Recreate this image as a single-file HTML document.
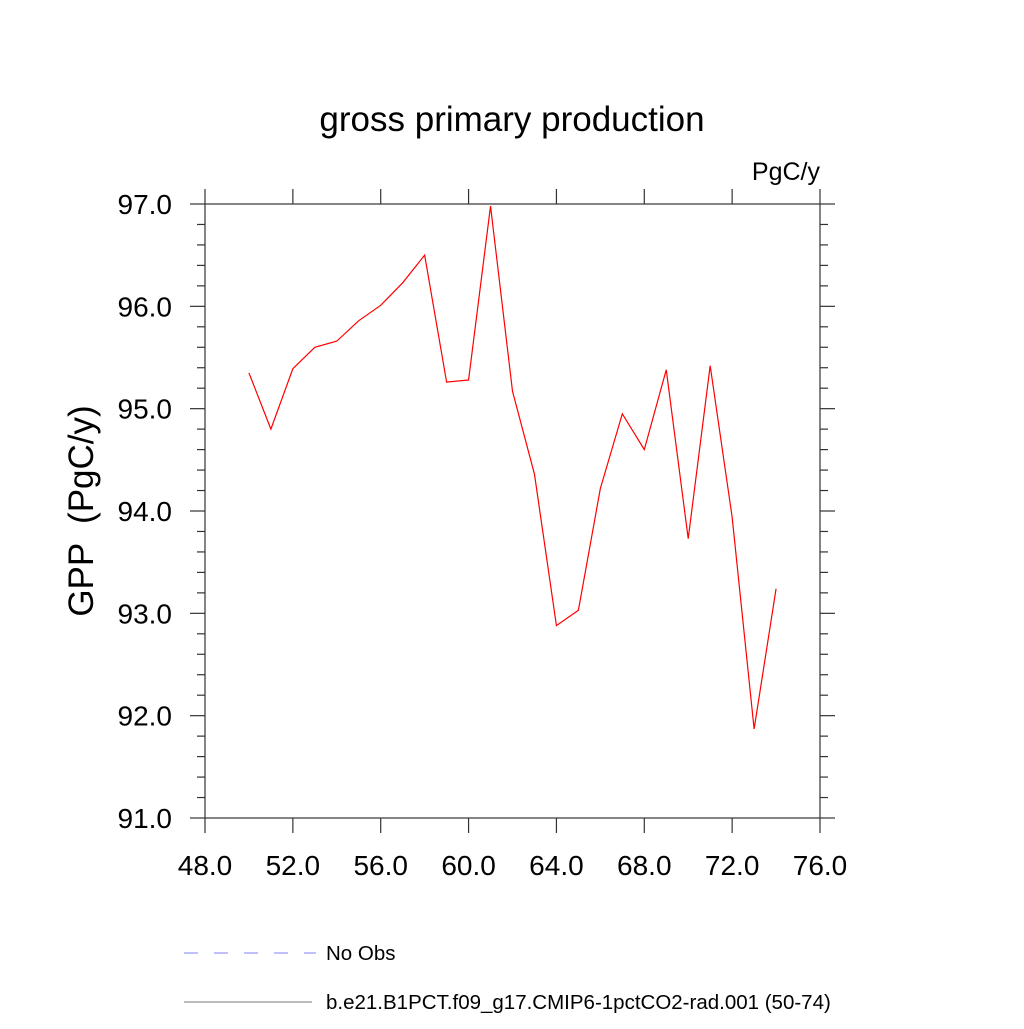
<!DOCTYPE html>
<html><head><meta charset="utf-8"><style>
body{margin:0;background:#fff}
svg text{font-family:"Liberation Sans",sans-serif;fill:#000}
</style></head><body>
<svg id="chart" width="1024" height="1024" viewBox="0 0 1024 1024" xmlns="http://www.w3.org/2000/svg">
<text x="512" y="131" font-size="35" text-anchor="middle">gross primary production</text>
<text x="820" y="180" font-size="25" text-anchor="end">PgC/y</text>
<text transform="translate(93,511) rotate(-90)" font-size="35" text-anchor="middle" style="white-space:pre">GPP  (PgC/y)</text>
<g id="axes"></g>
<polyline id="series" fill="none" stroke="#ff0000" stroke-width="1.2"/>
<g>
<line x1="184" y1="953" x2="316" y2="953" stroke="#8080ff" stroke-width="1" stroke-dasharray="14,16"/>
<text x="326" y="960" font-size="20.5">No Obs</text>
<line x1="184" y1="1002" x2="312" y2="1002" stroke="#777" stroke-width="1"/>
<text x="326" y="1009" font-size="20.5">b.e21.B1PCT.f09_g17.CMIP6-1pctCO2-rad.001 (50-74)</text>
</g>
</svg>
<script>
const years=[50,51,52,53,54,55,56,57,58,59,60,61,62,63,64,65,66,67,68,69,70,71,72,73,74];
const gpp=[95.35,94.80,95.39,95.60,95.66,95.86,96.01,96.23,96.50,95.26,95.28,96.98,95.17,94.36,92.88,93.03,94.22,94.95,94.60,95.38,93.73,95.42,93.94,91.87,93.24];
const xTicks=[48,52,56,60,64,68,72,76];
const yTicks=[91,92,93,94,95,96,97];
const L=205,R=820,T=204,B=818,xMin=48,xMax=76,yMin=91,yMax=97;
const sx=v=>L+(v-xMin)/(xMax-xMin)*(R-L);
const sy=v=>B-(v-yMin)/(yMax-yMin)*(B-T);
const NS="http://www.w3.org/2000/svg";
const ax=document.getElementById('axes');
function ln(x1,y1,x2,y2,name){const e=document.createElementNS(NS,'line');
e.setAttribute('x1',x1);e.setAttribute('y1',y1);e.setAttribute('x2',x2);e.setAttribute('y2',y2);
e.setAttribute('stroke','#333');e.setAttribute('stroke-width','1.2');


ax.appendChild(e);}
const fr=document.createElementNS(NS,'rect');
fr.setAttribute('x',L);fr.setAttribute('y',T);fr.setAttribute('width',R-L);fr.setAttribute('height',B-T);
fr.setAttribute('fill','none');fr.setAttribute('stroke','#333');fr.setAttribute('stroke-width','1.2');


ax.appendChild(fr);
xTicks.forEach(v=>{const x=sx(v);ln(x,B,x,B+15,'x-tick');ln(x,T,x,T-15,'x-tick-top');});
for(let i=0;i<=(yMax-yMin)*5;i++){const v=yMin+i*0.2;const y=sy(v);const major=i%5===0;const len=major?15:8;
ln(L,y,L-len,y,'y-tick');ln(R,y,R+len,y,'y-tick-right');}
xTicks.forEach(v=>{const t=document.createElementNS(NS,'text');t.setAttribute('x',sx(v));t.setAttribute('y',875);
t.setAttribute('font-size','28');t.setAttribute('text-anchor','middle');t.textContent=v.toFixed(1);


ax.appendChild(t);});
yTicks.forEach(v=>{const t=document.createElementNS(NS,'text');t.setAttribute('x',172);t.setAttribute('y',sy(v)+10);
t.setAttribute('font-size','28');t.setAttribute('text-anchor','end');t.textContent=v.toFixed(1);


ax.appendChild(t);});
document.getElementById('series').setAttribute('points',years.map((y,i)=>sx(y)+','+sy(gpp[i])).join(' '));
</script>
</body></html>
